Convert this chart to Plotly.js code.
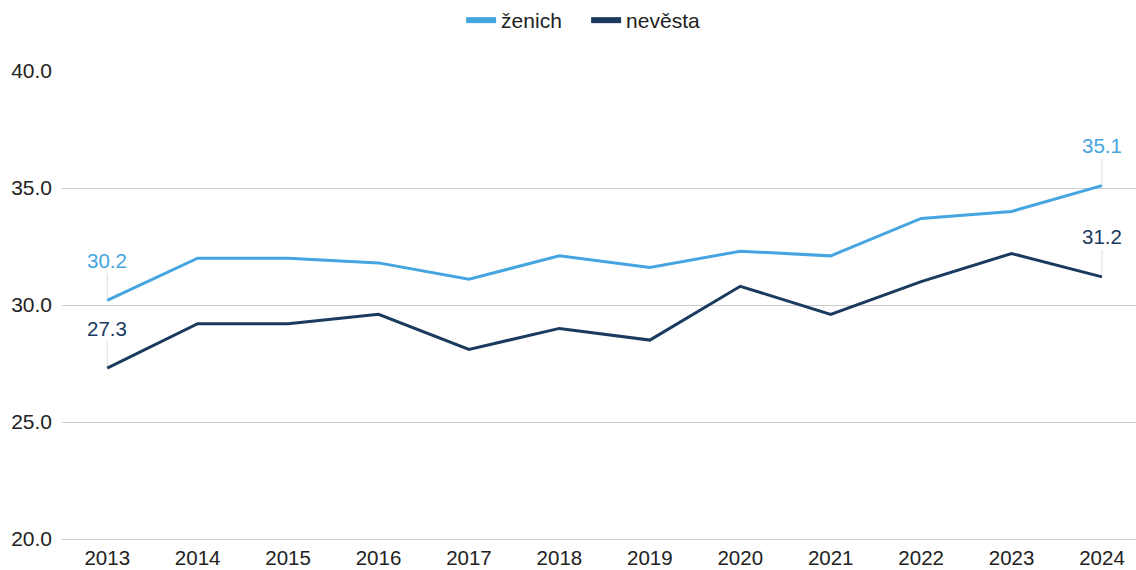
<!DOCTYPE html>
<html>
<head>
<meta charset="utf-8">
<script src="https://cdn.plot.ly/plotly-3.0.1.min.js"></script>
<style>html,body{margin:0;padding:0;background:#fff;}#chart{width:1136px;height:570px;}</style>
</head>
<body>
<div id="chart"></div>
<script>
const years = ["2013","2014","2015","2016","2017","2018","2019","2020","2021","2022","2023","2024"];
const zenich = [30.2, 32.0, 32.0, 31.8, 31.1, 32.1, 31.6, 32.3, 32.1, 33.7, 34.0, 35.1];
const nevesta = [27.3, 29.2, 29.2, 29.6, 28.1, 29.0, 28.5, 30.8, 29.6, 31.0, 32.2, 31.2];
const names = ["ženich", "nevěsta"];
const colors = ["#45a5e0", "#1b3a5f"];
const FONT = "'Liberation Sans', Arial, sans-serif";

const series = [zenich, nevesta];
const traces = [];
series.forEach((s, i) => {
  traces.push({
    x: years, y: s, name: names[i], type: "scatter", mode: "lines",
    line: {color: colors[i], width: 3}, showlegend: false, legendgroup: "g" + i
  });
});
series.forEach((s, i) => {
  traces.push({
    x: [null], y: [null], name: names[i], type: "scatter", mode: "lines",
    line: {color: colors[i], width: 6}, showlegend: true, legendgroup: "g" + i
  });
});

const annotations = [];
series.forEach((s, i) => {
  [0, s.length - 1].forEach(j => {
    annotations.push({
      x: j, y: s[j], xref: "x", yref: "y",
      text: s[j].toFixed(1), showarrow: true, arrowhead: 0, arrowwidth: 1,
      arrowcolor: "#dddddd", ax: 0, ay: -40, standoff: 2,
      font: {family: FONT, size: 20.5, color: colors[i]}
    });
  });
});

const layout = {
  width: 1136, height: 570,
  margin: {l: 62, r: 0, t: 71, b: 31},
  paper_bgcolor: "#fff", plot_bgcolor: "#fff",
  font: {family: FONT, size: 21, color: "#222"},
  showlegend: true,
  legend: {orientation: "h", x: 0.488, xanchor: "center", y: 1.108, yanchor: "middle",
    font: {family: FONT, size: 21, color: "#222"}, traceorder: "normal",
    entrywidth: 80, entrywidthmode: "pixels"},
  xaxis: {type: "category", range: [-0.5, 11.376], showgrid: false, zeroline: false,
    showline: true, linecolor: "#cccccc", linewidth: 1, ticks: "", tickfont: {size: 20.5},
    ticklabelstandoff: 0},
  yaxis: {range: [20, 40], dtick: 5, tickformat: ".1f", showgrid: true, gridcolor: "#cccccc",
    gridwidth: 1, zeroline: false, showline: false, ticks: "", ticklabelstandoff: 9, tickfont: {size: 21}},
  annotations: annotations
};
Plotly.newPlot("chart", traces, layout, {displayModeBar: false, staticPlot: true});
</script>
</body>
</html>
